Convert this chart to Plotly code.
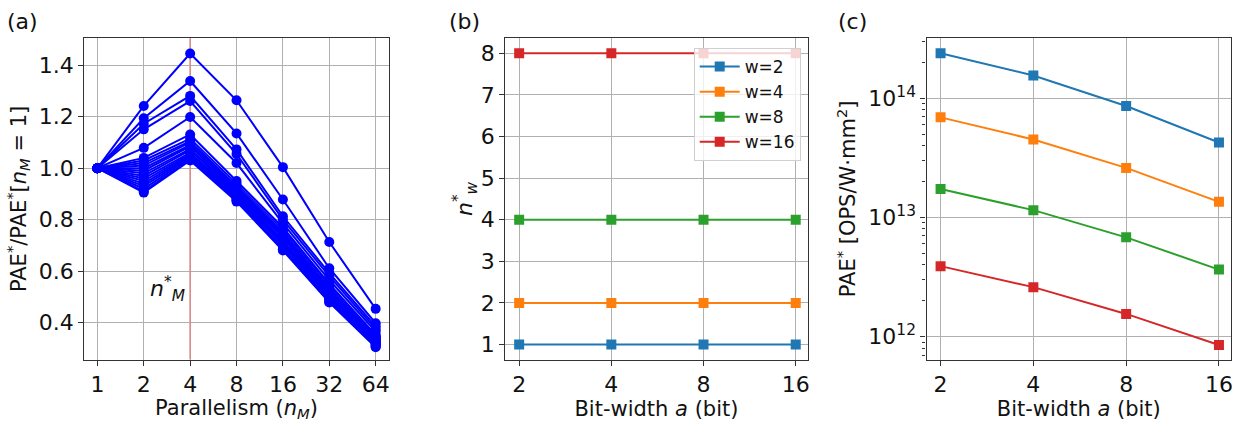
import plotly.graph_objects as go
import math

# ---------------- data ----------------
# Panel (a): PAE*/PAE*[nM=1] vs parallelism nM
nm_values = [1, 2, 4, 8, 16, 32, 64]
nm_labels = ["1", "2", "4", "8", "16", "32", "64"]
pae_ratio_series = [
    [1.0, 1.242, 1.446, 1.264, 1.004, 0.713, 0.453],
    [1.0, 1.194, 1.339, 1.135, 0.878, 0.611, 0.397],
    [1.0, 1.173, 1.281, 1.073, 0.813, 0.592, 0.385],
    [1.0, 1.151, 1.261, 1.055, 0.800, 0.580, 0.375],
    [1.0, 1.079, 1.199, 1.020, 0.785, 0.565, 0.365],
    [1.0, 1.040, 1.131, 0.950, 0.770, 0.550, 0.352],
    [1.0, 1.030, 1.115, 0.940, 0.760, 0.545, 0.346],
    [1.0, 1.020, 1.105, 0.930, 0.750, 0.535, 0.341],
    [1.0, 1.010, 1.100, 0.925, 0.745, 0.530, 0.338],
    [1.0, 1.000, 1.090, 0.920, 0.740, 0.525, 0.335],
    [1.0, 0.990, 1.085, 0.915, 0.735, 0.520, 0.331],
    [1.0, 0.980, 1.075, 0.910, 0.730, 0.515, 0.328],
    [1.0, 0.970, 1.070, 0.905, 0.720, 0.510, 0.325],
    [1.0, 0.960, 1.060, 0.900, 0.715, 0.505, 0.322],
    [1.0, 0.950, 1.055, 0.895, 0.710, 0.500, 0.320],
    [1.0, 0.940, 1.050, 0.890, 0.705, 0.495, 0.317],
    [1.0, 0.930, 1.045, 0.885, 0.700, 0.490, 0.314],
    [1.0, 0.920, 1.040, 0.880, 0.690, 0.485, 0.310],
    [1.0, 0.910, 1.035, 0.875, 0.685, 0.480, 0.307],
    [1.0, 0.905, 1.030, 0.870, 0.680, 0.478, 0.304],
]
nm_opt = 4
ratio_range = [0.256, 1.505]

# Panels (b) and (c): vs bit-width a
bit_widths = [2, 4, 8, 16]
bit_labels = ["2", "4", "8", "16"]
w_names = ["w=2", "w=4", "w=8", "w=16"]
w_colors = ["#1f77b4", "#ff7f0e", "#2ca02c", "#d62728"]
nw_opt = [
    [1, 1, 1, 1],
    [2, 2, 2, 2],
    [4, 4, 4, 4],
    [8, 8, 8, 8],
]
pae_opt = [
    [2.38e14, 1.55e14, 8.6e13, 4.25e13],
    [6.9e13, 4.5e13, 2.6e13, 1.35e13],
    [1.73e13, 1.15e13, 6.8e12, 3.65e12],
    [3.9e12, 2.6e12, 1.55e12, 8.5e11],
]
pae_tickvals = [1e12, 1e13, 1e14]
pae_ticktext = ["10<sup>12</sup>", "10<sup>13</sup>", "10<sup>14</sup>"]

# ---------------- figure ----------------
W, H = 1239, 422
FONT = "DejaVu Sans"
TICK = 22
TITLE = 21
GRID = "#b0b0b0"
AX = "#333333"

fig = go.Figure()

# vertical optimum line in panel (a) (drawn first, under the data)
fig.add_trace(go.Scatter(
    x=[nm_opt, nm_opt], y=ratio_range, mode="lines",
    line=dict(color="#d98c8c", width=1.6), showlegend=False,
    hoverinfo="skip", xaxis="x", yaxis="y"))

# panel (a)
for s in pae_ratio_series:
    fig.add_trace(go.Scatter(
        x=nm_values, y=s, mode="lines+markers",
        line=dict(color="#0000ff", width=2),
        marker=dict(color="#0000ff", size=10, symbol="circle"),
        showlegend=False, xaxis="x", yaxis="y"))

# panel (b)
for name, col, vals in zip(w_names, w_colors, nw_opt):
    fig.add_trace(go.Scatter(
        x=bit_widths, y=vals, mode="lines+markers", name=name,
        line=dict(color=col, width=2),
        marker=dict(color=col, size=10, symbol="square"),
        showlegend=True, xaxis="x2", yaxis="y2"))

# panel (c)
for name, col, vals in zip(w_names, w_colors, pae_opt):
    fig.add_trace(go.Scatter(
        x=bit_widths, y=vals, mode="lines+markers", name=name,
        line=dict(color=col, width=2),
        marker=dict(color=col, size=10, symbol="square"),
        showlegend=False, xaxis="x3", yaxis="y3"))


def px_x(p):
    return p / W


def px_y(p):
    return 1 - p / H


ydom = [px_y(359.5), px_y(38.3)]

common = dict(showgrid=True, gridcolor=GRID, gridwidth=1, showline=True,
              linecolor=AX, linewidth=1.3, mirror=True, ticks="outside",
              ticklen=5, tickcolor=AX, zeroline=False,
              tickfont=dict(size=TICK, color="#111", family=FONT))

title_font = dict(size=TITLE, color="#111", family=FONT)

minor_vals = [m * 10 ** e for e in (11, 12, 13, 14) for m in range(2, 10)]

fig.update_layout(
    width=W, height=H,
    margin=dict(l=0, r=0, t=0, b=0),
    paper_bgcolor="white", plot_bgcolor="white",
    font=dict(family=FONT, color="#111"),
    xaxis=dict(domain=[px_x(84.5), px_x(389.3)], anchor="y", type="log",
               range=[-0.0845, 1.8906], tickvals=nm_values, ticktext=nm_labels,
               title=dict(text="Parallelism (<i>n</i><sub><i>M</i></sub>)",
                          font=title_font, standoff=2), **common),
    yaxis=dict(domain=ydom, anchor="x", range=ratio_range,
               tickvals=[0.4, 0.6, 0.8, 1.0, 1.2, 1.4],
               ticktext=["0.4", "0.6", "0.8", "1.0", "1.2", "1.4"],
               title=dict(text="PAE<sup>*</sup>/PAE<sup>*</sup>[<i>n</i><sub><i>M</i></sub> = 1]",
                          font=title_font, standoff=6), **common),
    xaxis2=dict(domain=[px_x(506), px_x(809)], anchor="y2", type="log",
                range=[0.2554, 1.2432], tickvals=bit_widths, ticktext=bit_labels,
                title=dict(text="Bit-width <i>a</i> (bit)", font=title_font, standoff=2),
                **common),
    yaxis2=dict(domain=ydom, anchor="x2", range=[0.64, 8.36],
                tickvals=[1, 2, 3, 4, 5, 6, 7, 8],
                title=dict(text="<i>n</i><sup>*</sup><sub><i>w</i></sub>",
                           font=dict(size=22, color="#111", family=FONT), standoff=0),
                **common),
    xaxis3=dict(domain=[px_x(928), px_x(1233)], anchor="y3", type="log",
                range=[0.2554, 1.2432], tickvals=bit_widths, ticktext=bit_labels,
                title=dict(text="Bit-width <i>a</i> (bit)", font=title_font, standoff=2),
                **common),
    yaxis3=dict(domain=ydom, anchor="x3", type="log", range=[11.808, 14.502],
                tickvals=pae_tickvals, ticktext=pae_ticktext,
                minor=dict(ticks="outside", ticklen=3, tickcolor=AX, showgrid=False,
                           tickmode="array", tickvals=minor_vals),
                title=dict(text="PAE<sup>*</sup> [OPS/W·mm<sup>2</sup>]",
                           font=title_font, standoff=6),
                **common),
    legend=dict(x=px_x(802), y=px_y(48), xanchor="right", yanchor="top",
                bgcolor="rgba(255,255,255,0.8)", bordercolor="#d0d0d0",
                borderwidth=1, font=dict(size=17, family=FONT, color="#111"),
                itemwidth=40),
)

fig.add_annotation(xref="x", yref="y", x=math.log10(2.85), y=0.53,
                   text="<i>n</i><sup>*</sup><sub><i>M</i></sub>",
                   showarrow=False, font=dict(size=22, family=FONT, color="#111"))

for lbl, xp in [("(a)", 23), ("(b)", 465), ("(c)", 854)]:
    fig.add_annotation(xref="paper", yref="paper", x=px_x(xp), y=px_y(21),
                       xanchor="center", yanchor="middle",
                       text=lbl, showarrow=False,
                       font=dict(size=22, family=FONT, color="#111"))

fig.write_html("out.html", config={"displayModeBar": False},
               post_script="document.body.style.margin='0';")
